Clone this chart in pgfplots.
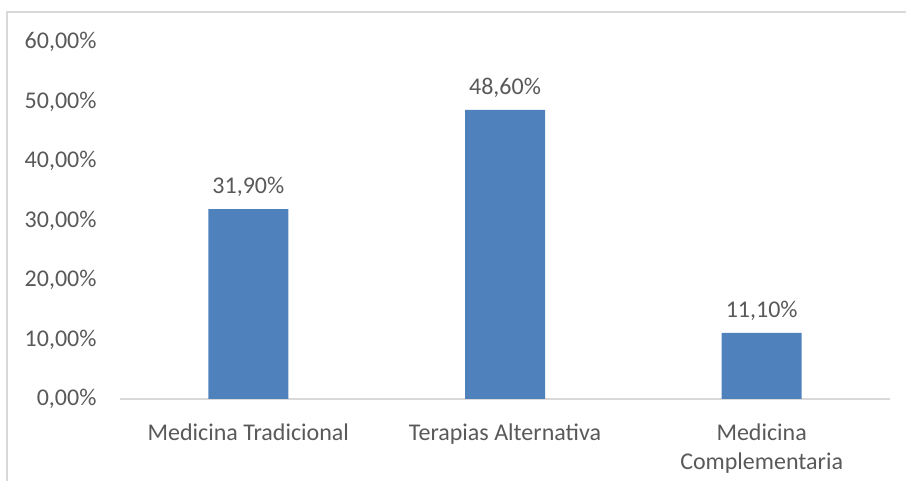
\documentclass[border=0pt]{standalone}
\usepackage{pgfplots}
\pgfplotsset{compat=1.18}
\usepackage{fontspec}
\setmainfont{Carlito}
\definecolor{barblue}{RGB}{79,129,189}
\definecolor{txtgray}{RGB}{89,89,89}
\definecolor{linegray}{RGB}{217,217,217}
\begin{document}
\begin{tikzpicture}[x=1pt,y=1pt]
\path[use as bounding box] (0,0) rectangle (906,481);
\draw[linegray, line width=1.5pt] (7,0) -- (7,469) -- (906,469);
\begin{axis}[
  at={(120pt,82pt)}, anchor=south west,
  scale only axis,
  width=770pt, height=357pt,
  xmin=-0.5, xmax=2.5,
  ymin=0, ymax=60,
  ybar, bar width=80pt,
  axis x line*=bottom,
  axis y line*=left,
  x axis line style={draw=linegray, line width=1.2pt, -},
  y axis line style={draw=none},
  xtick=data,
  xticklabels={Medicina Tradicional, Terapias Alternativa, {Medicina\\Complementaria}},
  xticklabel style={align=center, font=\fontsize{24}{29}\selectfont, text=txtgray, yshift=-21pt},
  major tick length=0pt,
  ytick={0,10,20,30,40,50,60},
  yticklabel={\pgfmathprintnumber[fixed,fixed zerofill,precision=2,use comma]{\tick}\%},
  yticklabel style={font=\fontsize{24}{24}\selectfont, text=txtgray, xshift=-20pt, /pgf/number format/assume math mode=true},
  clip=false,
  nodes near coords={\pgfmathprintnumber[fixed,fixed zerofill,precision=2,use comma]{\pgfplotspointmeta}\%},
  nodes near coords style={font=\fontsize{24}{24}\selectfont, text=txtgray, yshift=9pt, /pgf/number format/assume math mode=true},
]
\addplot[fill=barblue, draw=none] coordinates {(0,31.9) (1,48.6) (2,11.1)};
\end{axis}
\end{tikzpicture}
\end{document}
